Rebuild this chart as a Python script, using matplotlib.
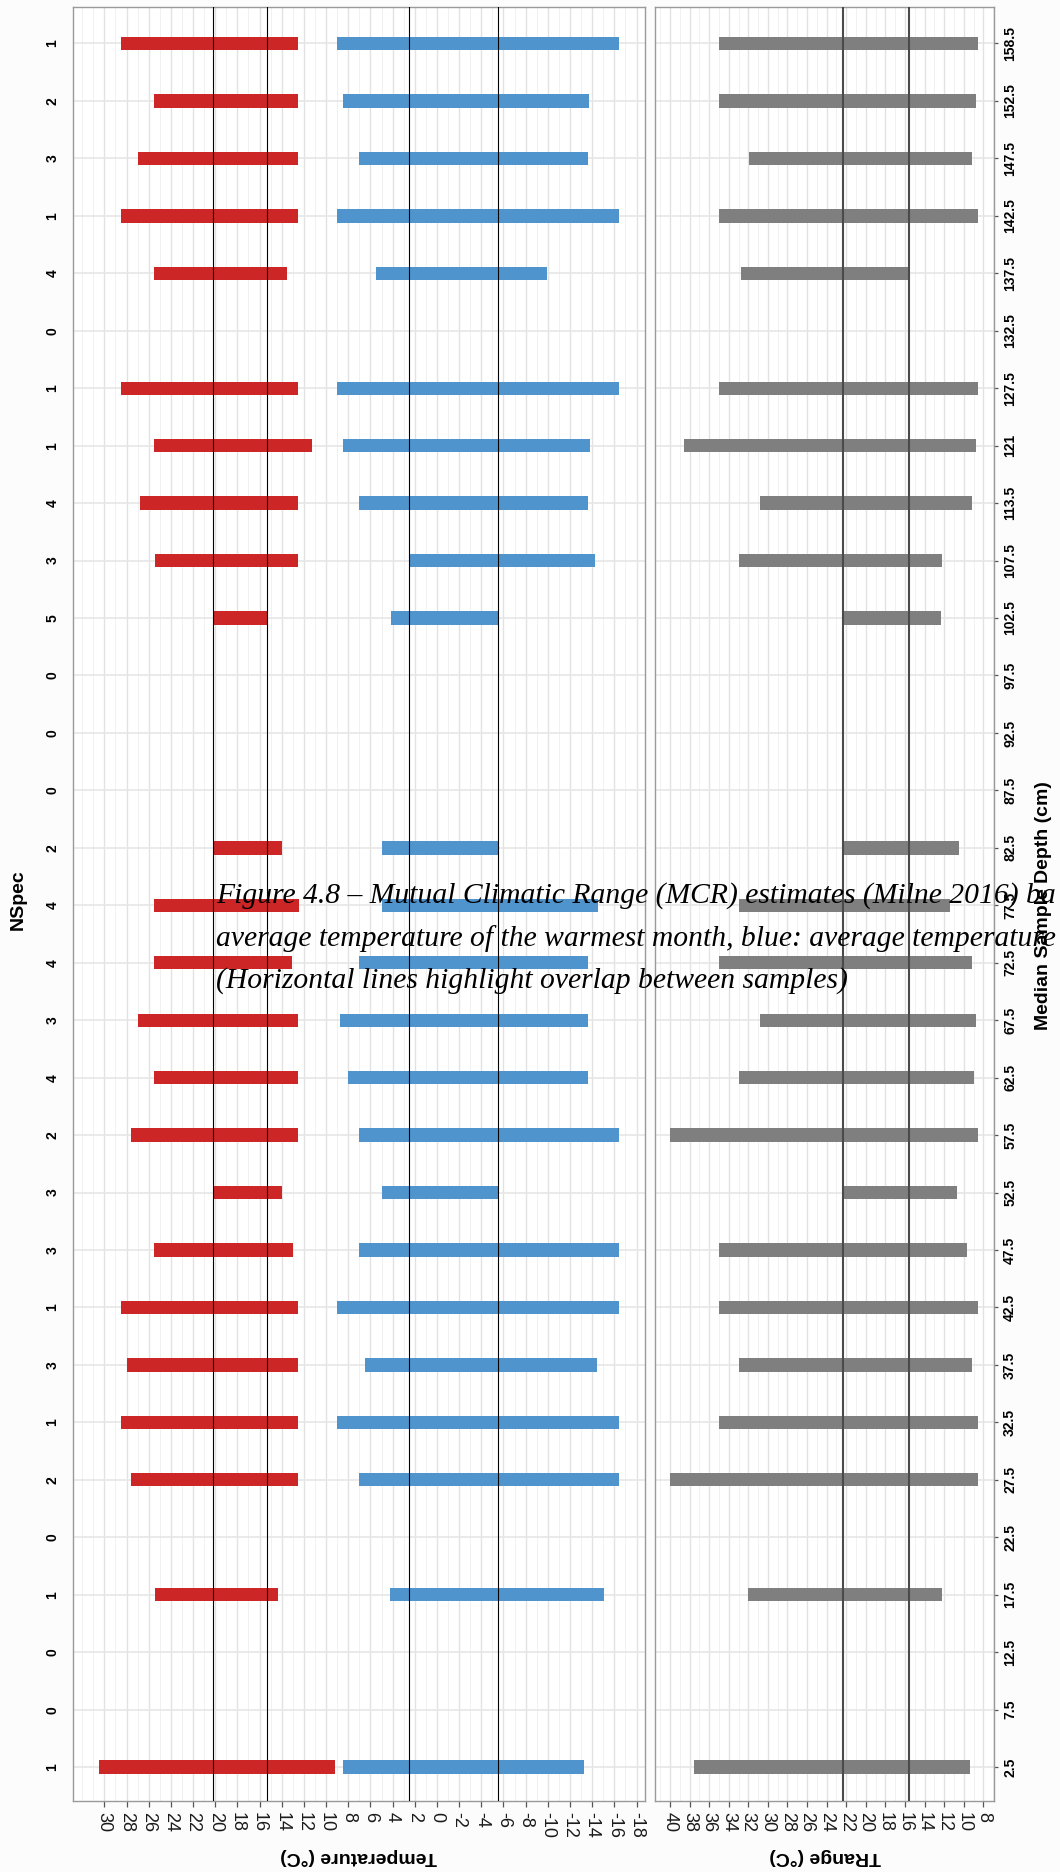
import matplotlib
matplotlib.use("Agg")
import matplotlib.pyplot as plt
from matplotlib.ticker import MultipleLocator
import numpy as np

plt.rcParams['font.family'] = ['Liberation Sans', 'DejaVu Sans']

nan = np.nan

# depth categories, bottom (2.5) to top (158.5)
depth = ["2.5", "7.5", "12.5", "17.5", "22.5", "27.5", "32.5", "37.5", "42.5", "47.5",
         "52.5", "57.5", "62.5", "67.5", "72.5", "77.5", "82.5", "87.5", "92.5", "97.5",
         "102.5", "107.5", "113.5", "121", "127.5", "132.5", "137.5", "142.5", "147.5",
         "152.5", "158.5"]
nspec = [1, 0, 0, 1, 0, 2, 1, 3, 1, 3, 3, 2, 4, 3, 4, 4, 2, 0, 0, 0, 5, 3, 4, 1, 1, 0,
         4, 1, 3, 2, 1]

# warmest month (red)
mtwa_hi = [30.45, nan, nan, 25.4, nan, 27.6, 28.5, 28.0, 28.5, 25.5, 20.2, 27.6, 25.5,
           27.0, 25.5, 25.5, 20.2, nan, nan, nan, 20.2, 25.4, 26.8, 25.5, 28.5, nan,
           25.5, 28.5, 27.0, 25.5, 28.5]
mtwa_lo = [9.2, nan, nan, 14.3, nan, 12.5, 12.5, 12.5, 12.5, 13.0, 14.0, 12.5, 12.5,
           12.5, 13.1, 12.4, 14.0, nan, nan, nan, 15.3, 12.5, 12.5, 11.3, 12.5, nan,
           13.5, 12.5, 12.5, 12.5, 12.5]
# coldest month (blue)
mtco_hi = [8.5, nan, nan, 4.2, nan, 7.0, 9.0, 6.5, 9.0, 7.0, 5.0, 7.0, 8.0, 8.7, 7.0,
           5.0, 5.0, nan, nan, nan, 4.1, 2.5, 7.0, 8.5, 9.0, nan, 5.5, 9.0, 7.0, 8.5, 9.0]
mtco_lo = [-13.3, nan, nan, -15.1, nan, -16.4, -16.4, -14.4, -16.4, -16.4, -5.5, -16.4,
           -13.6, -13.6, -13.6, -14.5, -5.5, nan, nan, nan, -5.5, -14.3, -13.6, -13.8,
           -16.4, nan, -9.9, -16.4, -13.6, -13.7, -16.4]
# temperature range (grey)
trange_hi = [37.5, nan, nan, 32.0, nan, 40.0, 35.0, 33.0, 35.0, 35.0, 22.3, 40.0, 33.0,
             30.8, 35.0, 33.0, 22.3, nan, nan, nan, 22.3, 33.0, 30.8, 38.6, 35.0, nan,
             32.7, 35.0, 31.9, 35.0, 35.0]
trange_lo = [9.4, nan, nan, 12.2, nan, 8.5, 8.5, 9.2, 8.5, 9.7, 10.7, 8.5, 9.0, 8.7,
             9.2, 11.4, 10.5, nan, nan, nan, 12.3, 12.2, 9.2, 8.7, 8.5, nan, 15.5, 8.5,
             9.2, 8.7, 8.5]

# overlap lines
temp_lines = [20.2, 15.3, 2.5, -5.5]
trange_lines = [22.3, 15.6]

caption = ["Figure 4.8 \u2013 Mutual Climatic Range (MCR) estimates (Milne 2016) ba",
           "average temperature of the warmest month, blue: average temperature o",
           "(Horizontal lines highlight overlap between samples)"]

W, H = 1060, 1872
fig = plt.figure(figsize=(W / 100, H / 100), dpi=100, facecolor='#fcfcfc')

def fx(px):
    return px / W

def fy(py):
    return 1 - py / H

top, bot = 7.3, 1801
ax1 = fig.add_axes([fx(73.3), fy(bot), fx(644.5 - 73.3), (bot - top) / H])
ax2 = fig.add_axes([fx(655), fy(bot), fx(994 - 655), (bot - top) / H])

y = np.arange(len(depth))
bh = 0.232

def span(ax, hi, lo, color):
    hi = np.array(hi)
    lo = np.array(lo)
    ok = ~np.isnan(hi)
    ax.barh(y[ok], hi[ok] - lo[ok], left=lo[ok], height=bh, color=color, zorder=3)

span(ax1, mtwa_hi, mtwa_lo, '#CD2626')
span(ax1, mtco_hi, mtco_lo, '#4F94CD')
span(ax2, trange_hi, trange_lo, '#7F7F7F')

for v in temp_lines:
    ax1.axvline(v, color='black', lw=0.8, zorder=4)
for v in trange_lines:
    ax2.axvline(v, color='#4a4a4a', lw=1.5, zorder=4)

ax1.set_xlim(32.8, -18.72)
ax2.set_xlim(41.53, 6.91)

for ax in (ax1, ax2):
    ax.set_ylim(-0.59, len(depth) - 1 + 0.63)
    ax.set_facecolor('white')
    ax.set_yticks(y)
    ax.xaxis.set_minor_locator(MultipleLocator(1))
    ax.grid(which='major', axis='x', color='#e2e2e2', lw=1.0, zorder=0)
    ax.grid(which='minor', axis='x', color='#f1f1f1', lw=0.7, zorder=0)
    ax.grid(which='major', axis='y', color='#e6e6e6', lw=1.2, zorder=0)
    for s in ax.spines.values():
        s.set_color('#9a9a9a')
        s.set_linewidth(1.0)
    ax.tick_params(axis='x', which='major', length=4.3, width=0.9, color='#555555',
                   pad=3.6, labelsize=13, labelcolor='#1a1a1a', labelrotation=270)
    ax.tick_params(axis='x', which='minor', length=0)

t1 = np.arange(-18, 31, 2)
ax1.set_xticks(t1)
ax1.set_xticklabels([str(v) for v in t1])
t2 = np.arange(8, 41, 2)
ax2.set_xticks(t2)
ax2.set_xticklabels([str(v) for v in t2])

ax1.set_yticklabels([str(n) for n in nspec])
ax1.tick_params(axis='y', length=0, pad=10, labelsize=10, labelrotation=90)
for lab in ax1.get_yticklabels():
    lab.set_fontweight('bold')
    lab.set_va('center')

ax2.yaxis.tick_right()
ax2.set_yticklabels(depth)
ax2.tick_params(axis='y', left=False, right=True, length=3, width=0.9, color='#555555',
                pad=3.6, labelsize=10, labelrotation=90)
for lab in ax2.get_yticklabels():
    lab.set_fontweight('bold')
    lab.set_va('center')

# axis titles
fig.text(fx(359), fy(1857), "Temperature (\u00b0C)", rotation=180, ha='center', va='center',
         fontsize=14, fontweight='bold')
fig.text(fx(825), fy(1857), "TRange (\u00b0C)", rotation=180, ha='center', va='center',
         fontsize=14, fontweight='bold')
fig.text(fx(18), fy(900), "NSpec", rotation=90, ha='center', va='center',
         fontsize=14, fontweight='bold')
fig.text(fx(1044), fy(906), "Median Sample Depth (cm)", rotation=90, ha='center',
         va='center', fontsize=14, fontweight='bold')

# caption overlaid on the figure
for i, line in enumerate(caption):
    fig.text(fx(216), fy(903 + 42.5 * i), line, ha='left', va='baseline',
             family=['Liberation Serif', 'DejaVu Serif'], style='italic', fontsize=21.3,
             color='black', zorder=10)

fig.savefig("out.png", dpi=100, facecolor=fig.get_facecolor())
